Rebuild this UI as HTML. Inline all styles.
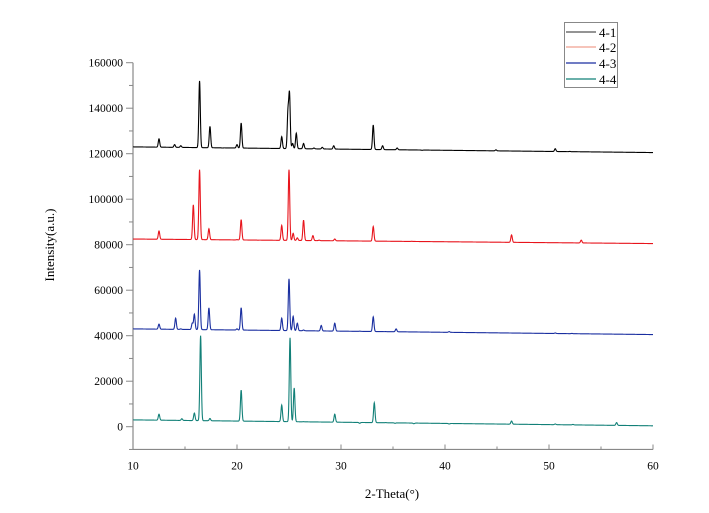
<!DOCTYPE html>
<html><head><meta charset="utf-8"><style>
body{margin:0;background:#fff}
svg{display:block;font-family:"Liberation Serif",serif}
</style></head><body>
<svg id="chart" width="709" height="513" viewBox="0 0 709 513" xmlns="http://www.w3.org/2000/svg">
<g id="axes"></g>
<g id="series"></g>
<text x="0" y="0" transform="translate(54,245) rotate(-90)" text-anchor="middle" font-size="13">Intensity(a.u.)</text>
<text x="392" y="498" text-anchor="middle" font-size="13">2-Theta(°)</text>
<g>
<rect x="564.5" y="22.5" width="53" height="65" fill="#fff" stroke="#888" stroke-width="1"/>
<line x1="566" y1="32" x2="596" y2="32" stroke="#555" stroke-width="1.2"/><text x="599" y="37" font-size="13">4-1</text>
<line x1="566" y1="47" x2="596" y2="47" stroke="#f0a090" stroke-width="1.2"/><text x="599" y="52" font-size="13">4-2</text>
<line x1="566" y1="63" x2="596" y2="63" stroke="#1a2fa0" stroke-width="1.2"/><text x="599" y="68" font-size="13">4-3</text>
<line x1="566" y1="79" x2="596" y2="79" stroke="#128078" stroke-width="1.2"/><text x="599" y="84" font-size="13">4-4</text>
</g>
</svg>
<script>
const xTicks=[10,20,30,40,50,60];
const yTicks=[0,20000,40000,60000,80000,100000,120000,140000,160000];
const seriesNames=["4-1","4-2","4-3","4-4"];
const seriesColors=["#000000","#e8141c","#1a2fa0","#128078"];
const baseStart=[123000,82500,43000,3000];
const baseEnd=[120500,80500,40500,400];
const pos41=[12.5,14.0,14.6,16.4,17.4,18.6,20.0,20.4,24.3,24.9,25.05,25.35,25.7,26.4,27.4,28.2,29.3,33.1,34.0,35.4,37.8,44.9,50.6,52.0];
const top41=[126500,124000,123500,152000,132000,122500,124000,133500,127500,138000,145800,124500,129000,124500,122500,122800,123500,132600,123500,122500,121500,121700,122200,121000];
const pos42=[12.5,15.8,16.4,17.3,20.0,20.4,22.0,24.3,25.0,25.4,25.8,26.4,27.3,27.9,29.4,33.1,36.8,46.4,53.1];
const top42=[86000,97500,113000,87000,82200,91000,82000,88500,113000,85000,83000,90800,84000,82000,82500,88000,81500,84300,82000];
const pos43=[12.5,14.1,14.6,15.7,15.9,16.4,17.3,20.0,20.4,24.3,25.0,25.4,25.8,26.4,28.1,29.4,31.8,33.1,34.3,35.3,40.4,50.6,52.2];
const top43=[45100,47700,43000,45500,49400,68900,52200,43000,52300,47700,65000,48500,45500,42500,44500,45500,42000,48300,41800,43000,41800,41200,41000];
const pos44=[12.5,14.7,15.9,16.5,17.4,20.4,24.3,25.1,25.5,26.4,29.4,31.8,33.2,34.3,35.2,37.0,40.4,46.4,50.6,52.3,56.5];
const top44=[5500,3500,6000,40000,3600,16100,9500,39100,17000,2200,5500,1500,10500,1800,1500,1300,1200,2500,1200,1000,1800];
const peakPos=[pos41,pos42,pos43,pos44];
const peakTop=[top41,top42,top43,top44];

const X0=133,X1=653,Y0=426.7,PXPER=45.5/20000;
function sx(v){return X0+(v-10)*(X1-X0)/50;}
function sy(v){return Y0-v*PXPER;}
const NS="http://www.w3.org/2000/svg";
function mk(tag,attrs,parent){const e=document.createElementNS(NS,tag);for(const k in attrs)e.setAttribute(k,attrs[k]);parent.appendChild(e);return e;}
const axes=document.getElementById('axes');
const yBottom=sy(-10000), yTop=sy(160000);
let l=mk('line',{x1:X0,y1:yBottom,x2:X1,y2:yBottom,stroke:'#888','stroke-width':1.2},axes);


l=mk('line',{x1:X0,y1:yBottom,x2:X0,y2:yTop,stroke:'#888','stroke-width':1.2},axes);


for(let v=10;v<=60;v+=5){const major=(v%10===0);mk('line',{x1:sx(v),y1:yBottom,x2:sx(v),y2:yBottom-(major?5:3),stroke:'#888'},axes);}
xTicks.forEach(v=>{const t=mk('text',{x:sx(v),y:yBottom+20,'text-anchor':'middle','font-size':11.5},axes);t.textContent=v;

});
for(let v=-10000;v<=160000;v+=10000){const major=(v%20000===0);mk('line',{x1:X0,y1:sy(v),x2:X0-(major?7:4),y2:sy(v),stroke:'#888'},axes);}
yTicks.forEach(v=>{const t=mk('text',{x:X0-10,y:sy(v)+4,'text-anchor':'end','font-size':11.5},axes);t.textContent=v;

});
const sg=document.getElementById('series');
seriesNames.forEach((name,i)=>{
  const bs=baseStart[i],be=baseEnd[i];
  const base=x=>bs+(be-bs)*(x-10)/50;
  const P=peakPos[i],T=peakTop[i];
  let d='';
  for(let x=10;x<=60.0001;x+=0.02){
    let v=base(x);
    for(let k=0;k<P.length;k++){const a=T[k]-base(P[k]);const s=0.07;const dx=x-P[k];v+=a*Math.exp(-dx*dx/(2*s*s));}
    d+=(d?'L':'M')+sx(x).toFixed(2)+','+sy(v).toFixed(2);
  }
  const p=mk('path',{d:d,fill:'none',stroke:seriesColors[i],'stroke-width':1.1},sg);
  
  
});
</script>
</body></html>
